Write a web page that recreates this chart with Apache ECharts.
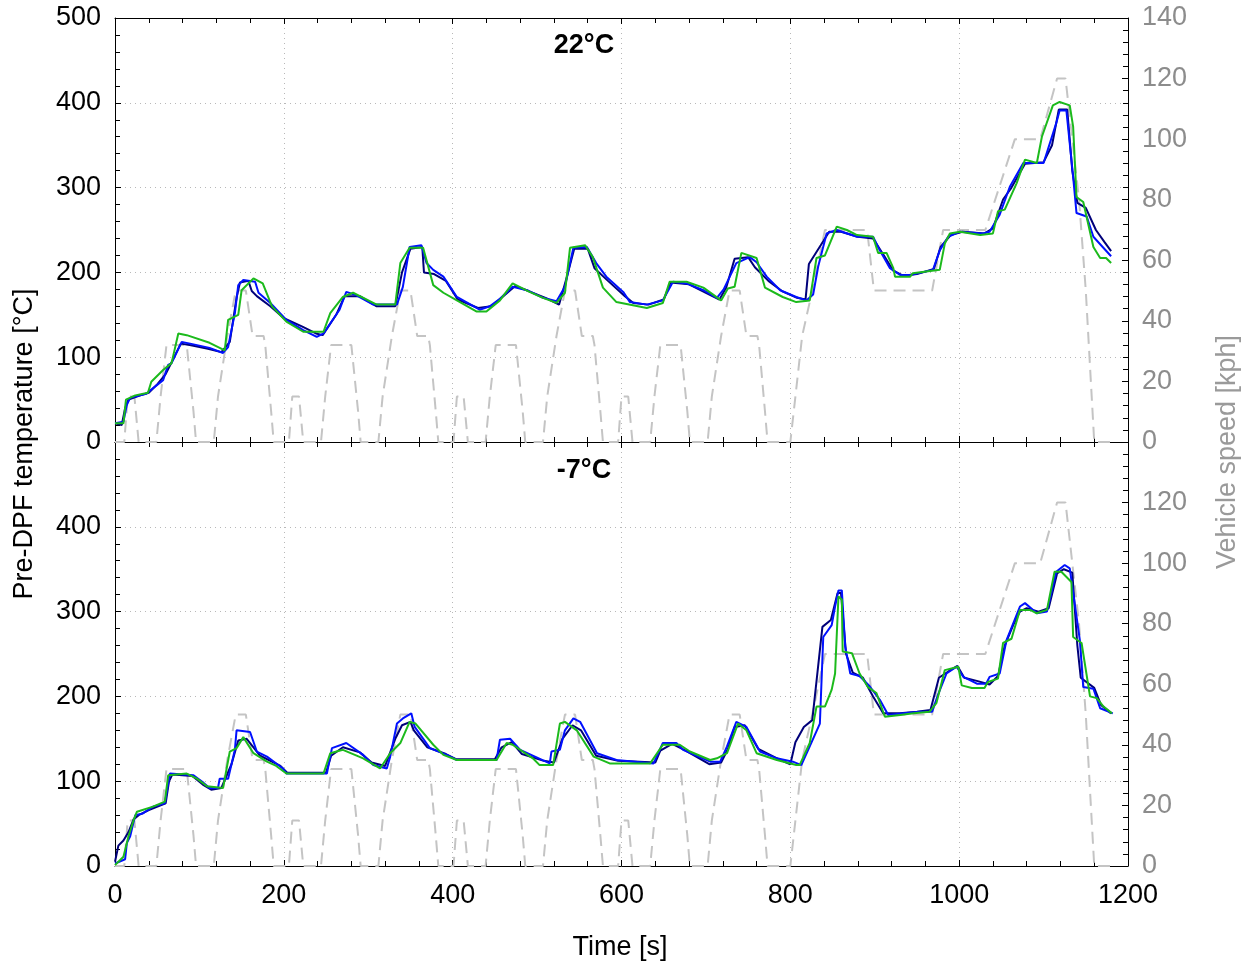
<!DOCTYPE html>
<html>
<head>
<meta charset="utf-8">
<script src="https://cdn.jsdelivr.net/npm/echarts@6/dist/echarts.min.js"></script>
<style>html,body{margin:0;padding:0;background:#fff}#c{width:1249px;height:965px}</style>
</head>
<body>
<div id="c"></div>
<script>
// ---- data ----
const panelTitles = ['22°C', '-7°C'];
const xTicks = [0, 200, 400, 600, 800, 1000, 1200];
const tempTicks = [0, 100, 200, 300, 400, 500];
const speedTicks = [0, 20, 40, 60, 80, 100, 120, 140];

// NEDC vehicle speed [kph] vs time [s]
const speed = [
  [0,0],[11,0],[15,15],[23,15],[28,0],[49,0],[54,15],[56,15],[61,32],[85,32],[93,10],[96,0],[117,0],[122,15],[124,15],[133,35],[135,35],[143,50],[155,50],[163,35],[176,35],[178,32],[185,10],[188,0],[195,0],
  [206,0],[210,15],[218,15],[223,0],[244,0],[249,15],[251,15],[256,32],[280,32],[288,10],[291,0],[312,0],[317,15],[319,15],[328,35],[330,35],[338,50],[350,50],[358,35],[371,35],[373,32],[380,10],[383,0],[390,0],
  [401,0],[405,15],[413,15],[418,0],[439,0],[444,15],[446,15],[451,32],[475,32],[483,10],[486,0],[507,0],[512,15],[514,15],[523,35],[525,35],[533,50],[545,50],[553,35],[566,35],[568,32],[575,10],[578,0],[585,0],
  [596,0],[600,15],[608,15],[613,0],[634,0],[639,15],[641,15],[646,32],[670,32],[678,10],[681,0],[702,0],[707,15],[709,15],[718,35],[720,35],[728,50],[740,50],[748,35],[761,35],[763,32],[770,10],[773,0],[780,0],
  [800,0],[806,15],[808,15],[814,35],[816,35],[826,50],[828,50],[841,70],[891,70],[899,50],[968,50],[981,70],[1031,70],[1066,100],[1096,100],[1116,120],[1126,120],[1142,80],[1150,50],[1160,0],[1180,0]
];

// 22°C panel
const top_navy = [[0,22],[8,20],[12,40],[16,50],[30,55],[40,58],[50,68],[60,80],[66,92],[78,116],[90,114],[110,110],[126,106],[136,118],[144,170],[148,188],[158,190],[162,178],[168,172],[184,160],[200,146],[222,136],[238,128],[246,126],[262,150],[272,172],[290,172],[310,160],[332,160],[340,200],[350,228],[364,230],[366,200],[378,198],[392,190],[406,168],[430,158],[446,160],[460,172],[474,184],[490,178],[510,170],[526,162],[534,190],[544,228],[560,228],[568,205],[584,190],[604,172],[614,164],[632,162],[650,168],[658,188],[680,186],[700,176],[716,168],[724,182],[734,216],[750,218],[758,206],[774,190],[790,178],[808,170],[818,168],[822,210],[836,232],[846,248],[860,248],[880,242],[898,240],[912,218],[922,202],[934,196],[950,198],[970,204],[978,230],[990,244],[1004,248],[1030,246],[1040,252],[1052,286],[1062,300],[1078,328],[1100,330],[1110,350],[1118,392],[1128,392],[1134,320],[1140,282],[1150,276],[1162,250],[1172,236],[1180,225]];
const top_blue = [[0,22],[10,24],[12,34],[14,44],[18,52],[37,57],[47,65],[57,73],[63,91],[67,93],[79,118],[89,116],[112,111],[128,105],[134,112],[142,152],[146,185],[152,191],[166,189],[170,176],[184,164],[203,144],[223,132],[239,124],[247,128],[266,156],[274,177],[286,173],[306,162],[334,162],[341,183],[349,230],[363,232],[369,211],[377,203],[389,195],[405,171],[432,156],[444,160],[456,169],[471,183],[488,179],[507,170],[523,166],[533,183],[543,229],[559,230],[570,211],[582,195],[602,177],[610,165],[630,162],[649,167],[661,189],[677,187],[697,179],[713,170],[721,180],[736,211],[752,218],[760,212],[772,195],[788,179],[807,171],[819,167],[827,174],[833,207],[843,246],[855,250],[879,242],[898,242],[906,226],[918,205],[930,197],[942,197],[969,203],[977,226],[987,242],[1001,248],[1028,246],[1036,248],[1048,268],[1060,301],[1076,329],[1100,329],[1115,376],[1119,391],[1127,391],[1135,313],[1139,270],[1151,266],[1159,242],[1170,230],[1180,219]];
const top_green = [[0,22],[10,22],[13,50],[24,55],[39,58],[43,71],[57,85],[67,93],[75,128],[85,126],[112,117],[130,108],[134,144],[146,150],[150,179],[164,193],[175,187],[186,160],[203,142],[223,130],[247,130],[255,152],[270,171],[282,176],[310,162],[332,162],[338,211],[349,229],[365,229],[377,185],[389,176],[405,167],[428,154],[440,154],[456,167],[471,187],[491,177],[507,170],[523,164],[533,176],[539,229],[557,232],[566,218],[578,182],[594,165],[630,158],[649,164],[657,189],[677,189],[697,182],[718,167],[726,181],[734,183],[742,223],[760,217],[770,182],[791,171],[807,165],[823,167],[831,217],[841,220],[855,254],[867,250],[879,244],[898,242],[904,223],[914,223],[922,205],[924,195],[942,195],[945,199],[977,203],[983,234],[989,246],[1001,248],[1025,244],[1040,246],[1046,272],[1054,274],[1068,305],[1078,333],[1092,329],[1098,360],[1111,397],[1119,401],[1131,397],[1135,372],[1139,289],[1147,283],[1159,230],[1167,217],[1174,217],[1180,211]];

// -7°C panel
const bot_navy = [[0,5],[4,24],[10,30],[16,40],[22,55],[28,60],[40,66],[60,74],[64,100],[68,108],[92,106],[104,96],[114,90],[126,92],[138,120],[146,148],[156,150],[164,140],[172,130],[196,118],[204,110],[250,110],[256,130],[270,140],[290,134],[304,122],[320,118],[332,150],[340,166],[350,170],[354,160],[370,140],[392,132],[404,126],[450,126],[458,140],[470,146],[482,132],[508,124],[520,122],[530,150],[542,166],[552,160],[570,130],[596,124],[640,122],[646,136],[660,144],[676,136],[704,120],[718,122],[726,138],[734,164],[746,166],[762,138],[786,126],[800,120],[806,146],[816,164],[826,172],[838,282],[848,290],[856,322],[860,322],[866,250],[874,228],[886,222],[898,200],[910,180],[930,180],[950,182],[966,184],[976,222],[988,230],[998,236],[1006,222],[1022,218],[1036,214],[1046,224],[1054,260],[1064,284],[1072,300],[1080,304],[1094,300],[1106,304],[1116,345],[1124,350],[1134,346],[1140,260],[1144,222],[1160,210],[1168,190],[1180,180]];
const bot_blue = [[0,3],[12,8],[14,27],[18,35],[24,60],[33,62],[45,70],[59,74],[65,109],[93,107],[105,98],[112,92],[122,92],[124,103],[134,103],[142,137],[144,160],[160,158],[168,135],[180,129],[199,115],[203,109],[251,109],[257,139],[274,145],[294,131],[306,119],[322,115],[326,129],[334,168],[341,174],[351,180],[355,164],[373,139],[393,131],[405,125],[452,125],[456,149],[468,150],[480,137],[515,121],[517,135],[527,137],[533,160],[543,174],[551,170],[571,133],[594,125],[638,121],[649,145],[665,145],[673,137],[705,123],[717,123],[725,141],[736,170],[748,164],[764,135],[784,127],[803,123],[813,119],[823,141],[835,168],[839,270],[849,284],[853,306],[857,325],[861,325],[865,259],[871,227],[882,224],[894,212],[906,196],[916,178],[934,180],[954,182],[968,182],[975,202],[985,227],[997,235],[1005,223],[1021,215],[1032,215],[1036,223],[1048,227],[1056,266],[1072,306],[1078,310],[1092,298],[1104,300],[1115,347],[1125,355],[1131,351],[1143,266],[1147,211],[1159,209],[1167,186],[1182,180]];
const bot_green = [[0,1],[10,11],[16,35],[22,54],[26,64],[45,70],[59,76],[63,107],[85,109],[97,103],[109,94],[128,92],[136,135],[144,139],[152,152],[164,133],[180,123],[191,118],[203,109],[247,109],[255,133],[270,137],[294,127],[314,115],[326,133],[338,145],[349,170],[356,168],[377,143],[389,131],[405,125],[452,125],[464,145],[471,143],[495,127],[503,119],[519,119],[527,168],[533,170],[547,160],[567,129],[586,121],[634,121],[649,143],[669,143],[681,135],[705,125],[713,127],[725,133],[738,168],[748,160],[760,133],[784,125],[807,119],[811,119],[823,145],[831,188],[841,188],[849,208],[853,227],[857,318],[861,314],[862,253],[873,251],[882,227],[892,211],[902,204],[912,176],[930,178],[946,180],[965,182],[973,192],[983,231],[999,235],[1003,213],[1015,210],[1030,210],[1034,217],[1046,221],[1052,263],[1062,268],[1072,302],[1084,302],[1092,298],[1104,302],[1113,347],[1121,347],[1133,335],[1135,270],[1145,263],[1155,200],[1163,198],[1171,188],[1181,180]];

// ---- chart ----
const FONT = '"Liberation Sans", Arial, sans-serif';
const FS = 27;
const chart = echarts.init(document.getElementById('c'), null, {renderer: 'canvas'});

const grids = [
  {left: 115, top: 18, width: 1013, height: 424},
  {left: 115, top: 442, width: 1013, height: 424}
];
const tick = {show: true, inside: true, length: 6, lineStyle: {color: '#000', width: 1}};
const axLine = {show: true, onZero: false, lineStyle: {color: '#000', width: 1}};
const noLine = {show: false, onZero: false};
const gridLine = {show: true, lineStyle: {color: '#b8b8b8', type: [1, 4], width: 1}};
const off = {show: false};

const xAxes = [], yAxes = [];
[0, 1].forEach(g => {
  const showLab = g === 1;
  // x: labelled bottom, top border, minor bottom, minor top
  xAxes.push({type: 'value', gridIndex: g, position: 'bottom', min: xTicks[0], max: xTicks[xTicks.length-1], interval: 200,
    axisLine: axLine, axisTick: tick, splitLine: gridLine,
    axisLabel: {show: showLab, fontFamily: FONT, fontSize: FS, color: '#000', margin: 16, formatter: v => String(v)}});
  xAxes.push({type: 'value', gridIndex: g, position: 'top', min: 0, max: 1200, interval: 200,
    axisLine: axLine, axisTick: tick, splitLine: off, axisLabel: off});
  xAxes.push({type: 'value', gridIndex: g, position: 'bottom', min: 0, max: 1200, interval: 40,
    axisLine: noLine, axisTick: Object.assign({}, tick, {length: 5}), splitLine: off, axisLabel: off});
  xAxes.push({type: 'value', gridIndex: g, position: 'top', min: 0, max: 1200, interval: 40,
    axisLine: noLine, axisTick: Object.assign({}, tick, {length: 5}), splitLine: off, axisLabel: off});
  // y: labelled left, labelled right, minor left, minor right
  yAxes.push({type: 'value', gridIndex: g, position: 'left', min: tempTicks[0], max: tempTicks[tempTicks.length-1], interval: 100,
    axisLine: axLine, axisTick: tick, splitLine: gridLine,
    axisLabel: {fontFamily: FONT, fontSize: FS, color: '#000', margin: 14, showMaxLabel: g === 0}});
  yAxes.push({type: 'value', gridIndex: g, position: 'right', min: speedTicks[0], max: speedTicks[speedTicks.length-1], interval: 20,
    axisLine: axLine, axisTick: tick, splitLine: off,
    axisLabel: {fontFamily: FONT, fontSize: FS, color: '#8c8c8c', margin: 14, showMaxLabel: g === 0}});
  yAxes.push({type: 'value', gridIndex: g, position: 'left', min: 0, max: 500, interval: 20,
    axisLine: noLine, axisTick: Object.assign({}, tick, {length: 5}), splitLine: off, axisLabel: off});
  yAxes.push({type: 'value', gridIndex: g, position: 'right', min: 0, max: 140, interval: 4,
    axisLine: noLine, axisTick: Object.assign({}, tick, {length: 5}), splitLine: off, axisLabel: off});
});

const panels = [[top_navy, top_blue, top_green], [bot_navy, bot_blue, bot_green]];
const series = [];
[0, 1].forEach(g => {
  series.push({type: 'line', xAxisIndex: g*4, yAxisIndex: g*4+1, data: speed, showSymbol: false, silent: true,
    lineStyle: {color: '#c4c4c4', width: 2, type: [12, 7]}, z: 1});
  const cols = ['#00007a', '#0010ff', '#1cba1c'];
  panels[g].forEach((d, i) => {
    series.push({type: 'line', xAxisIndex: g*4, yAxisIndex: g*4, data: d, showSymbol: false, silent: true,
      lineStyle: {color: cols[i], width: 2}, z: 2 + i});
  });
});

chart.setOption({
  animation: false,
  backgroundColor: '#fff',
  grid: grids,
  xAxis: xAxes,
  yAxis: yAxes,
  series: series,
  graphic: [
    {type: 'text', x: 584, y: 46, style: {text: panelTitles[0], font: 'bold 27px ' + FONT, fill: '#000', textAlign: 'center', textVerticalAlign: 'middle'}},
    {type: 'text', x: 584, y: 471, style: {text: panelTitles[1], font: 'bold 27px ' + FONT, fill: '#000', textAlign: 'center', textVerticalAlign: 'middle'}},
    {type: 'text', x: 25, y: 444, rotation: Math.PI/2, style: {text: 'Pre-DPF temperature [°C]', font: FS + 'px ' + FONT, fill: '#000', textAlign: 'center', textVerticalAlign: 'middle'}},
    {type: 'text', x: 1228, y: 452, rotation: Math.PI/2, style: {text: 'Vehicle speed [kph]', font: FS + 'px ' + FONT, fill: '#9a9a9a', textAlign: 'center', textVerticalAlign: 'middle'}},
    {type: 'text', x: 620, y: 948, style: {text: 'Time [s]', font: FS + 'px ' + FONT, fill: '#000', textAlign: 'center', textVerticalAlign: 'middle'}}
  ]
});
</script>
</body>
</html>
